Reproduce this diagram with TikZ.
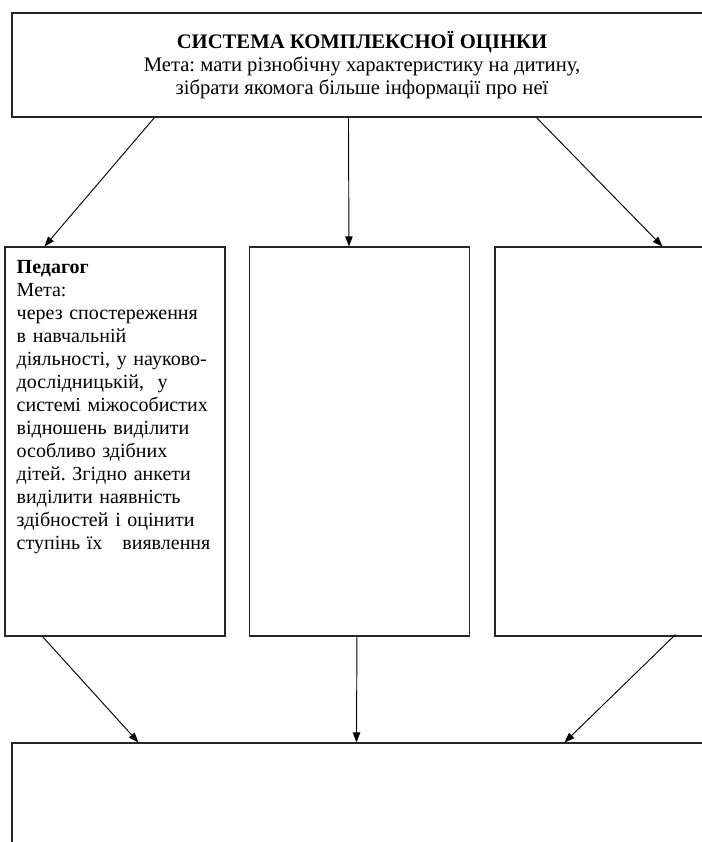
\documentclass[tikz,border=0pt]{standalone}
\usepackage{fontspec}
\setmainfont{Liberation Serif}
\usetikzlibrary{arrows.meta}
\frenchspacing

\begin{document}
\begin{tikzpicture}[x=0.75pt, y=-0.75pt,
    box/.style={draw=black!85, line width=0.8pt, inner sep=0pt},
    txt/.style={font=\fontsize{15.5}{17.25}\selectfont},
    flow/.style={-{Triangle[length=7.5pt,width=5.5pt]}, line width=0.7pt}]
    \useasboundingbox (0,0) rectangle (702,842);
    \clip (0,0) rectangle (702,842);

    \node[box, txt, minimum width=525pt, minimum height=78pt, align=center] (goal) at (362,65)
        {\textbf{СИСТЕМА КОМПЛЕКСНОЇ ОЦІНКИ}\\
         Мета: мати різнобічну характеристику на дитину,\\
         зібрати якомога більше інформації про неї};

    \node[box, minimum width=165pt, minimum height=291.75pt] (ped) at (115,441.5) {};
    \node[box, minimum width=165pt, minimum height=291.75pt] (mid) at (359.5,441.5) {};
    \node[box, minimum width=165pt, minimum height=291.75pt] (rgt) at (605,441.5) {};
    \node[txt, font=\fontsize{15}{17.25}\selectfont, anchor=north west, inner sep=0pt,
          text width=160pt, align=left] (pedtext)
        at ([xshift=9pt,yshift=-10pt]ped.north west)
        {\textbf{Педагог}\\
         Мета:\\
         через спостереження\\
         в навчальній\\
         діяльності, у науково-\\
         дослідницькій,\ \ у\\
         системі міжособистих\\
         відношень виділити\\
         особливо здібних\\
         дітей. Згідно анкети\\
         виділити наявність\\
         здібностей і оцінити\\
         ступінь їх\ \ \ виявлення};

    \node[box, minimum width=525pt, minimum height=150pt] (res) at (362,843) {};

    \draw[flow] ([xshift=107.25pt]goal.south west) -- ([xshift=30pt]ped.north west);
    \draw[flow] ([xshift=252.75pt]goal.south west) -- ([xshift=75pt]mid.north west);
    \draw[flow] ([xshift=393.75pt]goal.south west) -- ([xshift=126pt]rgt.north west);

    \draw[flow] ([xshift=28.5pt]ped.south west) -- ([xshift=95.25pt]res.north west);
    \draw[flow] ([xshift=81pt]mid.south west) -- ([xshift=258.75pt]res.north west);
    \draw[flow] ([xshift=135.75pt,yshift=1.5pt]rgt.south west) -- ([xshift=414.75pt]res.north west);
\end{tikzpicture}
\end{document}
